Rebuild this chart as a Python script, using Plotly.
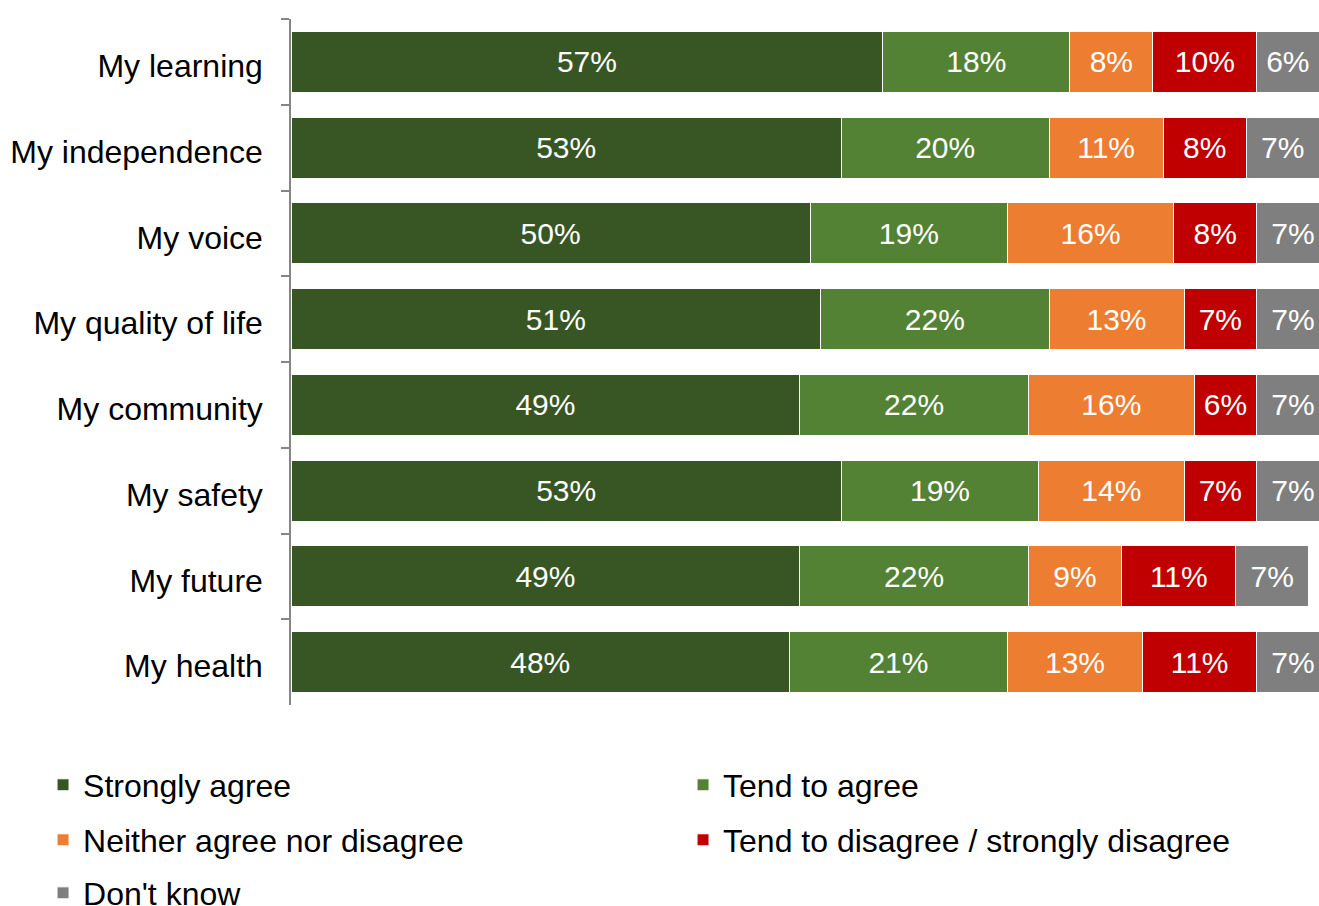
import plotly.graph_objects as go

categories = [
    "My learning",
    "My independence",
    "My voice",
    "My quality of life",
    "My community",
    "My safety",
    "My future",
    "My health",
]
strongly_agree = [57, 53, 50, 51, 49, 53, 49, 48]
tend_to_agree = [18, 20, 19, 22, 22, 19, 22, 21]
neither = [8, 11, 16, 13, 16, 14, 9, 13]
disagree = [10, 8, 8, 7, 6, 7, 11, 11]
dont_know = [6, 7, 7, 7, 7, 7, 7, 7]

series = [
    ("Strongly agree", strongly_agree, "#375623", "legend"),
    ("Tend to agree", tend_to_agree, "#548235", "legend"),
    ("Neither agree nor disagree", neither, "#ED7D31", "legend2"),
    ("Tend to disagree / strongly disagree", disagree, "#C00000", "legend2"),
    ("Don't know", dont_know, "#7F7F7F", "legend3"),
]

FONT = "Arial, 'Liberation Sans', sans-serif"

fig = go.Figure()
for name, values, color, legend in series:
    fig.add_trace(
        go.Bar(
            x=values,
            y=categories,
            orientation="h",
            name=name,
            legend=legend,
            marker=dict(color=color, line=dict(color="#ffffff", width=1)),
            texttemplate="%{x}%",
            textposition="inside",
            insidetextanchor="middle",
            textangle=0,
            constraintext="none",
            textfont=dict(family=FONT, size=30, color="#ffffff"),
            hovertemplate="%{y}: %{x}%<extra>" + name + "</extra>",
        )
    )

# two entries per row, one legend per row so the row spacing can be set
legend_common = dict(
    orientation="h",
    x=-0.2412,
    xanchor="left",
    yanchor="middle",
    entrywidth=595,
    entrywidthmode="pixels",
    font=dict(family=FONT, size=32, color="#000000"),
    bgcolor="rgba(0,0,0,0)",
    traceorder="normal",
)

fig.update_layout(
    barmode="stack",
    bargap=0.29,
    width=1319,
    height=906,
    paper_bgcolor="#ffffff",
    plot_bgcolor="#ffffff",
    font=dict(family=FONT, size=32, color="#000000"),
    margin=dict(l=291, r=0, t=19, b=201, autoexpand=False),
    legend=dict(y=-0.1166, **legend_common),
    legend2=dict(y=-0.1968, **legend_common),
    legend3=dict(y=-0.2741, **legend_common),
)

fig.update_xaxes(range=[0, 99], visible=False, showgrid=False, zeroline=False)
fig.update_yaxes(
    autorange="reversed",
    tickson="boundaries",
    ticks="outside",
    ticklen=8,
    tickwidth=1.5,
    tickcolor="#868686",
    showline=True,
    linecolor="#868686",
    linewidth=1.5,
    showgrid=False,
    ticklabelstandoff=20,
    ticklabelshift=-4,
    tickfont=dict(family=FONT, size=32, color="#000000"),
)

fig.write_html(
    "out.html",
    config={"displayModeBar": False},
    post_script="document.body.style.margin='0';",
)
